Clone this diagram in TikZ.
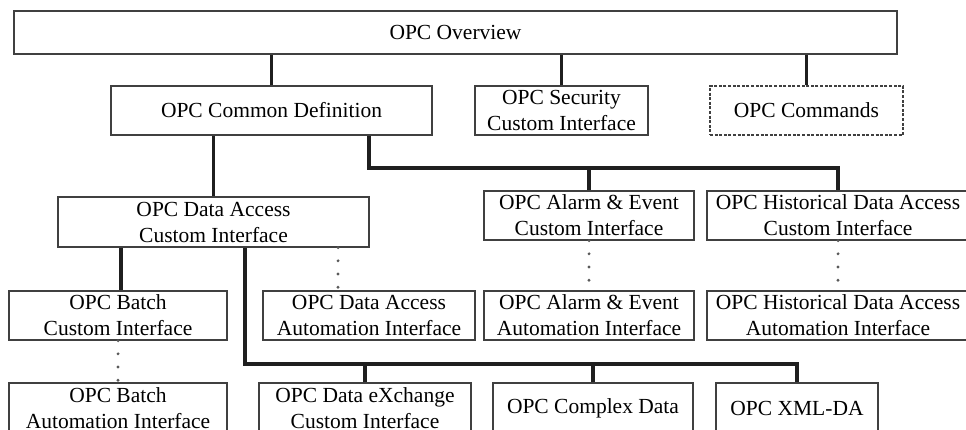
\documentclass[tikz,border=0pt]{standalone}
\usepackage{fontspec}
\setmainfont{Liberation Serif}
\definecolor{boxgray}{gray}{0.25}
\definecolor{conncol}{gray}{0.12}
\definecolor{dotgray}{gray}{0.35}
\begin{document}
\begin{tikzpicture}[x=1pt,y=-1pt,
  box/.style={draw=boxgray, line width=1.3pt, fill=white, inner sep=0pt,
    align=center, text=black, font=\fontsize{21.5}{26}\selectfont},
  dashbox/.style={box, dash pattern=on 3pt off 1.6pt},
  conn/.style={draw=conncol, line width=3.6pt},
  dotconn/.style={draw=dotgray, line width=3.2pt, line cap=round, dash pattern=on 0pt off 13.2pt}]
\useasboundingbox (0,0) rectangle (966,430);
\clip (0,0) rectangle (966,430);

% boxes
\node[box, minimum width=883pt, minimum height=43pt] (ov) at (455.5,32.5) {OPC Overview};
\node[box, minimum width=321pt, minimum height=49pt] (cd) at (271.5,110.5) {OPC Common Definition};
\node[box, minimum width=173pt, minimum height=49pt] (sec) at (561.5,110.5) {OPC Security\\Custom Interface};
\node[dashbox, minimum width=193pt, minimum height=49pt] (cmd) at (806.5,110.5) {OPC Commands};

\node[box, minimum width=311pt, minimum height=50pt] (da) at (213.5,222) {OPC Data Access\\Custom Interface};
\node[box, minimum width=210pt, minimum height=49pt] (ae) at (589,215.5) {OPC Alarm \& Event\\Custom Interface};
\node[box, minimum width=262pt, minimum height=49pt] (hda) at (838,215.5) {OPC Historical Data Access\\Custom Interface};

\node[box, minimum width=218pt, minimum height=49pt] (batch) at (118,315.5) {OPC Batch\\Custom Interface};
\node[box, minimum width=212pt, minimum height=49pt] (daa) at (369,315.5) {OPC Data Access\\Automation Interface};
\node[box, minimum width=210pt, minimum height=49pt] (aea) at (589,315.5) {OPC Alarm \& Event\\Automation Interface};
\node[box, minimum width=262pt, minimum height=49pt] (hdaa) at (838,315.5) {OPC Historical Data Access\\Automation Interface};

\node[box, minimum width=218pt, minimum height=50pt] (batcha) at (118,408) {OPC Batch\\Automation Interface};
\node[box, minimum width=212pt, minimum height=50pt] (dx) at (365,408) {OPC Data eXchange\\Custom Interface};
\node[box, minimum width=200pt, minimum height=50pt] (cx) at (593,408) {OPC Complex Data};
\node[box, minimum width=162pt, minimum height=50pt] (xml) at (797,408) {OPC XML-DA};

% helper coordinates
\coordinate (b1) at (369,168);
\coordinate (b2) at (245,364);
\coordinate (bt) at (121,0);
\coordinate (dadot) at (338,0);

% solid connectors
\draw[conn] (cd.north) -- (cd.north |- ov.south);
\draw[conn] (sec.north) -- (sec.north |- ov.south);
\draw[conn] (cmd.north) -- (cmd.north |- ov.south);
\draw[conn] (da.north) -- (da.north |- cd.south);
\draw[conn] (b1 |- cd.south) -- (b1) -| (hda.north);
\draw[conn] (ae.north) -- (ae.north |- b1);
\draw[conn] (bt |- da.south) -- (bt |- batch.north);
\draw[conn] (b2 |- da.south) -- (b2) -| (xml.north);
\draw[conn] (dx.north) -- (dx.north |- b2);
\draw[conn] (cx.north) -- (cx.north |- b2);

% dotted connectors
\draw[dotconn] (batch.south) -- (batcha.north);
\draw[dotconn] (dadot |- da.south) -- (dadot |- daa.north);
\draw[dotconn] (ae.south) -- (aea.north);
\draw[dotconn] (hda.south) -- (hdaa.north);
\end{tikzpicture}
\end{document}
